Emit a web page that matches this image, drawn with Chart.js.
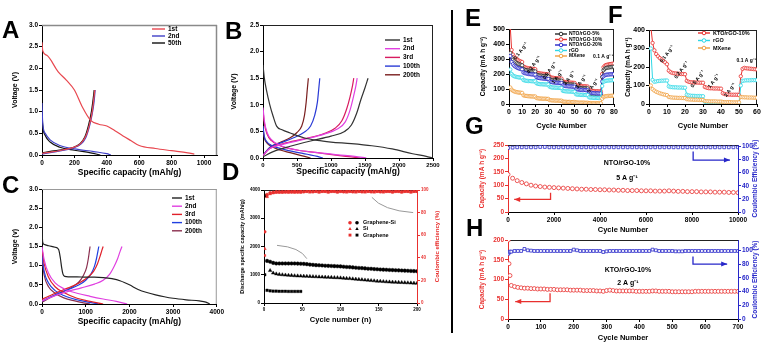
<!DOCTYPE html>
<html>
<head>
<meta charset="utf-8">
<script src="https://cdn.jsdelivr.net/npm/chart.js@4.4.1/dist/chart.umd.min.js"></script>
<style>
  body { margin: 0; background: #fff; }
  #page { position: relative; width: 762px; height: 344px; overflow: hidden; font-family: "Liberation Sans", Arial, sans-serif; }
  canvas { position: absolute; }
  .tag { position: absolute; font-weight: bold; font-size: 24px; line-height: 1; }
  #rule { position: absolute; left: 451px; top: 10px; width: 2px; height: 323px; background: #000; }
</style>
</head>
<body>
<div id="page">
  <canvas id="cA" width="225" height="186" style="left:0;top:0"></canvas>
  <canvas id="cB" width="222" height="186" style="left:225px;top:0"></canvas>
  <canvas id="cC" width="225" height="152" style="left:0;top:180px"></canvas>
  <canvas id="cD" width="222" height="152" style="left:225px;top:180px"></canvas>
  <canvas id="cE" width="150" height="135" style="left:470px;top:0"></canvas>
  <canvas id="cF" width="141" height="135" style="left:621px;top:0"></canvas>
  <canvas id="cG" width="292" height="102" style="left:470px;top:135px"></canvas>
  <canvas id="cH" width="292" height="112" style="left:470px;top:232px"></canvas>
  <div id="rule"></div>
  <div class="tag" style="left:2px;top:18px">A</div>
  <div class="tag" style="left:225px;top:19px">B</div>
  <div class="tag" style="left:2px;top:173px">C</div>
  <div class="tag" style="left:222px;top:160px">D</div>
  <div class="tag" style="left:465px;top:6px">E</div>
  <div class="tag" style="left:608px;top:3px">F</div>
  <div class="tag" style="left:465px;top:114px">G</div>
  <div class="tag" style="left:466px;top:216px">H</div>
</div>
<script>
// ---- A: voltage profiles (capacity mAh/g, voltage V)
const a1DisCap = [0, 5, 30, 100, 150, 200, 250, 300, 350, 400, 450, 500, 550, 600, 700, 800, 900, 940];
const a1DisV   = [2.6, 2.4, 2.3, 1.92, 1.73, 1.5, 1.1, 0.8, 0.71, 0.67, 0.56, 0.44, 0.33, 0.22, 0.15, 0.1, 0.05, 0.02];
const a1ChCap  = [0, 60, 120, 190, 240, 272, 294, 310, 320, 326];
const a1ChV    = [0.04, 0.07, 0.11, 0.17, 0.27, 0.45, 0.72, 1.0, 1.3, 1.5];
const a2DisCap = [0, 4, 20, 50, 110, 200, 320, 400, 425];
const a2DisV   = [1.2, 0.75, 0.5, 0.35, 0.22, 0.14, 0.08, 0.03, 0.0];
const a2ChCap  = [0, 60, 120, 190, 240, 270, 292, 310, 322, 328];
const a2ChV    = [0.02, 0.06, 0.1, 0.16, 0.25, 0.4, 0.65, 0.95, 1.25, 1.5];
const a50DisCap = [0, 4, 20, 50, 110, 200, 300, 360];
const a50DisV   = [1.05, 0.7, 0.45, 0.3, 0.18, 0.11, 0.05, 0.0];
const a50ChCap  = [0, 60, 120, 190, 235, 265, 288, 305, 316, 322];
const a50ChV    = [0.05, 0.09, 0.12, 0.17, 0.26, 0.42, 0.7, 1.0, 1.3, 1.5];

// ---- B
const b1DisCap = [0, 20, 50, 100, 150, 200, 280, 400, 600, 800, 1000, 1300, 1600, 1900, 2200, 2400, 2490];
const b1DisV   = [1.75, 1.5, 1.28, 1.0, 0.78, 0.6, 0.53, 0.47, 0.38, 0.33, 0.3, 0.27, 0.23, 0.17, 0.08, 0.03, 0.0];
const b1ChCap  = [0, 150, 400, 700, 1000, 1200, 1300, 1380, 1440, 1500, 1545];
const b1ChV    = [0.02, 0.12, 0.22, 0.32, 0.41, 0.5, 0.62, 0.85, 1.1, 1.32, 1.5];
const b2DisCap = [0, 20, 60, 120, 250, 500, 800, 1100, 1350, 1520];
const b2DisV   = [0.95, 0.7, 0.48, 0.35, 0.24, 0.15, 0.1, 0.06, 0.03, 0.0];
const b2ChCap  = [0, 100, 300, 600, 900, 1100, 1210, 1280, 1330, 1365, 1385];
const b2ChV    = [0.05, 0.18, 0.26, 0.35, 0.45, 0.55, 0.68, 0.9, 1.15, 1.35, 1.5];
const b3DisCap = [0, 20, 60, 120, 250, 500, 800, 1100, 1300, 1430];
const b3DisV   = [0.9, 0.65, 0.45, 0.33, 0.23, 0.15, 0.1, 0.05, 0.02, 0.0];
const b3ChCap  = [0, 100, 300, 600, 900, 1060, 1160, 1230, 1280, 1315, 1335];
const b3ChV    = [0.05, 0.18, 0.27, 0.36, 0.46, 0.56, 0.7, 0.92, 1.15, 1.35, 1.5];
const b100DisCap = [0, 20, 60, 120, 250, 450, 650, 800, 880];
const b100DisV   = [0.6, 0.4, 0.3, 0.24, 0.18, 0.12, 0.07, 0.03, 0.0];
const b100ChCap  = [0, 100, 250, 450, 600, 700, 760, 800, 820, 835];
const b100ChV    = [0.05, 0.2, 0.28, 0.38, 0.48, 0.6, 0.8, 1.05, 1.3, 1.5];
const b200DisCap = [0, 20, 60, 120, 250, 400, 550, 700];
const b200DisV   = [0.55, 0.38, 0.28, 0.22, 0.15, 0.1, 0.05, 0.0];
const b200ChCap  = [0, 100, 250, 400, 500, 570, 610, 635, 652, 667];
const b200ChV    = [0.05, 0.2, 0.29, 0.38, 0.48, 0.6, 0.8, 1.05, 1.3, 1.5];

// ---- C
const c1DisCap = [0, 5, 15, 40, 150, 300, 380, 420, 450, 480, 520, 600, 800, 1000, 1200, 1400, 1600, 1800, 2000, 2200, 2400, 2600, 2800, 3000, 3300, 3600, 3750, 3840];
const c1DisV   = [2.9, 2.0, 1.62, 1.56, 1.52, 1.48, 1.42, 1.2, 0.95, 0.78, 0.72, 0.71, 0.71, 0.7, 0.7, 0.69, 0.66, 0.6, 0.5, 0.38, 0.3, 0.24, 0.19, 0.15, 0.11, 0.08, 0.05, 0.0];
const c2DisCap = [0, 50, 150, 300, 500, 800, 1100, 1400, 1700, 1950];
const c2DisV   = [1.5, 1.15, 0.8, 0.55, 0.4, 0.28, 0.2, 0.13, 0.07, 0.0];
const c2ChCap  = [0, 300, 600, 900, 1200, 1400, 1550, 1650, 1730, 1790, 1830];
const c2ChV    = [0.08, 0.22, 0.33, 0.42, 0.52, 0.62, 0.78, 0.98, 1.18, 1.38, 1.5];
const c3DisCap = [0, 50, 150, 300, 500, 800, 1100, 1400];
const c3DisV   = [1.45, 1.05, 0.7, 0.45, 0.3, 0.15, 0.07, 0.0];
const c3ChCap  = [0, 300, 600, 850, 1050, 1180, 1270, 1330, 1370, 1400];
const c3ChV    = [0.12, 0.28, 0.42, 0.55, 0.7, 0.85, 1.05, 1.25, 1.4, 1.5];
const c100DisCap = [0, 50, 150, 300, 500, 800, 1050, 1300];
const c100DisV   = [1.3, 0.85, 0.55, 0.35, 0.22, 0.11, 0.05, 0.0];
const c100ChCap  = [0, 300, 600, 850, 1000, 1120, 1200, 1250, 1280, 1300];
const c100ChV    = [0.08, 0.24, 0.38, 0.5, 0.62, 0.78, 0.98, 1.2, 1.38, 1.5];
const c200DisCap = [0, 50, 150, 300, 500, 750, 950, 1100];
const c200DisV   = [1.2, 0.75, 0.45, 0.28, 0.16, 0.08, 0.03, 0.0];
const c200ChCap  = [0, 250, 500, 700, 850, 950, 1020, 1060, 1085, 1100];
const c200ChV    = [0.05, 0.2, 0.33, 0.45, 0.58, 0.75, 0.95, 1.18, 1.38, 1.5];

// ---- D: cycling (cycle, capacity mAh/g; coulombic efficiency %)
const dCyc = [1, 4, 8, 12, 16, 20, 24, 28, 32, 36, 40, 44, 48, 52, 56, 60, 64, 68, 72, 76, 80, 84, 88, 92, 96, 100, 104, 108, 112, 116, 120, 124, 128, 132, 136, 140, 144, 148, 152, 156, 160, 164, 168, 172, 176, 180, 184, 188, 192, 196, 200];
const dGsiCap = [3800, 1490, 1460, 1420, 1400, 1400, 1400, 1400, 1400, 1400, 1400, 1395, 1390, 1385, 1375, 1360, 1350, 1340, 1335, 1330, 1320, 1315, 1310, 1305, 1300, 1295, 1285, 1275, 1270, 1260, 1250, 1240, 1235, 1225, 1215, 1210, 1200, 1195, 1185, 1180, 1175, 1170, 1165, 1160, 1155, 1150, 1145, 1140, 1135, 1130, 1125];
const dSiCap  = [null, null, 1150, 1060, 1030, 1010, 1000, 990, 980, 975, 965, 960, 955, 950, 945, 940, 935, 930, 925, 920, 915, 910, 905, 900, 895, 890, 880, 870, 865, 855, 845, 835, 825, 815, 805, 795, 785, 775, 770, 760, 750, 745, 740, 735, 730, 725, 720, 715, 710, 705, 700];
const dGsiCE = [63, 96, 97.5, 98, 98.5, 98.5, 98.5, 98.5, 99, 98.5, 99, 98.5, 99, 98.5, 99, 99, 98.5, 99, 98.5, 99, 99, 98.5, 99, 99, 98.5, 99, 98.5, 99, 99, 98.5, 99, 99, 98.5, 99, 99, 98.5, 99, 99, 98.5, 99, 99, 99, 98.5, 99, 99, 98.5, 99, 99, 98.5, 99, 99];
const dSiCE  = [48, 94, 96.5, 97.5, 98, 98, 98, 98.5, 98, 98.5, 98, 98.5, 98, 98.5, 98.5, 98, 98.5, 98.5, 98, 98.5, 98.5, 98, 98.5, 98.5, 98, 98.5, 98.5, 98, 98.5, 98.5, 98, 98.5, 98.5, 98, 98.5, 98.5, 98, 98.5, 98.5, 98, 98.5, 98.5, 98, 98.5, 98.5, 98, 98.5, 98.5, 98, 98.5, 98.5];
const dGrCyc = [1, 4, 8, 12, 16, 20, 24, 28, 32, 36, 40, 44, 48];
const dGrCap = [1000, 450, 430, 420, 420, 415, 415, 415, 410, 410, 410, 410, 410];
const dGrCE  = [42, 95, 97, 97.5, 98, 98, 98, 98, 98, 98, 98, 98, 98];

// ---- E: rate capability, capacity per cycle 1..80 (mA h/g)
const eNto5 = [340, 310, 295, 285, 278, 272, 268, 264, 261, 258, 232, 228, 226, 224, 222, 221, 220, 219, 218, 217, 195, 192, 190, 189, 188, 187, 186, 185, 185, 184, 165, 162, 160, 159, 158, 157, 157, 156, 156, 155, 138, 135, 133, 132, 131, 130, 130, 129, 129, 128, 112, 110, 108, 107, 106, 106, 105, 105, 104, 104, 70, 65, 63, 62, 61, 60, 60, 59, 59, 58, 180, 225, 235, 240, 242, 244, 245, 246, 247, 248];
const eNto10 = [510, 360, 330, 315, 305, 298, 292, 287, 283, 280, 250, 245, 242, 240, 238, 236, 235, 234, 233, 232, 210, 207, 205, 203, 202, 201, 200, 199, 198, 197, 180, 177, 175, 174, 173, 172, 171, 170, 170, 169, 150, 148, 146, 145, 144, 143, 142, 142, 141, 140, 125, 123, 122, 121, 120, 119, 118, 118, 117, 116, 95, 90, 88, 87, 86, 85, 85, 84, 84, 83, 200, 245, 255, 260, 262, 264, 266, 267, 268, 270];
const eNto20 = [320, 280, 265, 255, 248, 243, 239, 236, 233, 231, 210, 206, 204, 202, 200, 199, 198, 197, 196, 195, 178, 175, 173, 172, 171, 170, 169, 168, 168, 167, 150, 147, 145, 144, 143, 142, 141, 141, 140, 140, 125, 122, 120, 119, 118, 117, 117, 116, 116, 115, 100, 98, 96, 95, 94, 94, 93, 93, 92, 92, 80, 76, 74, 73, 72, 72, 71, 71, 70, 70, 150, 185, 192, 195, 196, 197, 198, 198, 199, 199];
const eRgo = [230, 200, 190, 185, 182, 180, 178, 177, 176, 175, 160, 157, 155, 154, 153, 153, 152, 152, 151, 151, 138, 135, 133, 132, 132, 131, 131, 130, 130, 130, 115, 112, 110, 110, 109, 109, 108, 108, 108, 107, 88, 86, 85, 84, 84, 83, 83, 82, 82, 82, 65, 63, 62, 62, 61, 61, 60, 60, 60, 60, 45, 43, 42, 42, 41, 41, 41, 40, 40, 40, 120, 148, 152, 155, 156, 157, 158, 158, 159, 160];
const eMxene = [110, 95, 88, 84, 81, 79, 77, 76, 75, 74, 58, 55, 54, 53, 52, 51, 51, 50, 50, 50, 40, 38, 37, 36, 36, 35, 35, 35, 34, 34, 26, 25, 24, 24, 23, 23, 23, 22, 22, 22, 16, 15, 15, 14, 14, 14, 13, 13, 13, 13, 10, 10, 9, 9, 9, 9, 9, 8, 8, 8, 6, 6, 5, 5, 5, 5, 5, 5, 5, 5, 35, 48, 51, 52, 53, 54, 54, 55, 55, 55];
const eRates = ['0.1 A g⁻¹', '0.2 A g⁻¹', '0.5 A g⁻¹', '1 A g⁻¹', '2 A g⁻¹', '3 A g⁻¹', '5 A g⁻¹'];

// ---- F: rate capability, capacity per cycle 1..60
const fKto10 = [420, 330, 290, 270, 258, 248, 240, 232, 225, 215, 180, 172, 168, 166, 165, 164, 163, 162, 162, 161, 125, 120, 118, 117, 117, 116, 116, 115, 115, 115, 92, 88, 86, 85, 85, 84, 84, 84, 83, 83, 58, 54, 52, 51, 51, 50, 50, 50, 50, 49, 150, 190, 195, 193, 192, 191, 190, 189, 188, 187];
const fRgo = [300, 130, 120, 122, 124, 125, 126, 126, 127, 127, 95, 92, 91, 90, 90, 89, 89, 89, 88, 88, 50, 46, 45, 44, 44, 43, 43, 43, 42, 42, 12, 10, 9, 9, 9, 8, 8, 8, 8, 8, 5, 5, 4, 4, 4, 4, 4, 4, 4, 4, 100, 125, 127, 128, 128, 128, 129, 129, 129, 129];
const fMxene = [100, 80, 72, 66, 62, 58, 55, 52, 50, 48, 38, 36, 35, 34, 34, 33, 33, 33, 32, 32, 26, 25, 24, 24, 23, 23, 23, 22, 22, 22, 16, 15, 15, 14, 14, 14, 14, 13, 13, 13, 11, 10, 10, 10, 10, 9, 9, 9, 9, 9, 38, 37, 36, 36, 35, 35, 35, 34, 34, 34];
const fRates = ['0.1 A g⁻¹', '0.2 A g⁻¹', '0.5 A g⁻¹', '1 A g⁻¹', '2 A g⁻¹'];

// ---- G: long cycling NTO/rGO-10% at 5 A/g
const gCyc = [0, 200, 400, 600, 800, 1000, 1200, 1400, 1600, 1800, 2000, 2200, 2400, 2600, 2800, 3000, 3200, 3400, 3600, 3800, 4000, 4200, 4400, 4600, 4800, 5000, 5200, 5400, 5600, 5800, 6000, 6200, 6400, 6600, 6800, 7000, 7200, 7400, 7600, 7800, 8000, 8200, 8400, 8600, 8800, 9000, 9200, 9400, 9600, 9800, 10000];
const gCap = [140, 126, 117, 110, 105, 100, 97, 95, 93, 92, 91, 90, 89, 88, 87, 86, 85, 85, 84, 84, 83, 83, 82, 82, 81, 81, 80, 80, 80, 79, 79, 79, 78, 78, 78, 79, 78, 77, 77, 76, 76, 76, 75, 75, 75, 74, 74, 74, 73, 73, 72];
const gCE  = [97.5, 98, 98.5, 98.5, 98.5, 98.5, 98.5, 99, 99, 98.5, 98.5, 98.5, 98.5, 98.5, 98.5, 98.5, 98.5, 98.5, 98.5, 98.5, 98.5, 98.5, 98.5, 98.5, 98.5, 98.5, 98.5, 98.5, 98.5, 98.5, 98.5, 98.5, 98.5, 98.5, 98.5, 98.5, 98.5, 98.5, 98.5, 98.5, 98.5, 98.5, 98.5, 98.5, 98.5, 98.5, 98.5, 98.5, 98.5, 98.5, 98.5];

// ---- H: long cycling KTO/rGO-10% at 2 A/g
const hCyc = [1, 3, 6, 10, 20, 30, 40, 50, 60, 70, 80, 90, 100, 110, 120, 130, 140, 150, 160, 170, 180, 190, 200, 210, 220, 230, 240, 250, 260, 270, 280, 290, 300, 310, 320, 330, 340, 350, 360, 370, 380, 390, 400, 410, 420, 430, 440, 450, 460, 470, 480, 490, 500, 510, 520, 530, 540, 550, 560, 570, 580, 590, 600, 610, 620, 630, 640, 650, 660, 670, 680, 690, 700];
const hCap = [200, 140, 110, 85, 82, 80, 79, 78, 78, 77, 77, 76, 76, 76, 75, 75, 75, 74, 74, 74, 74, 73, 73, 73, 73, 72, 72, 72, 72, 71, 71, 70, 72, 73, 72, 71, 71, 71, 71, 71, 71, 70, 70, 70, 70, 70, 71, 71, 70, 70, 70, 70, 69, 69, 69, 69, 69, 69, 69, 70, 70, 70, 70, 70, 70, 70, 70, 70, 70, 70, 70, 70, 70];
const hCE  = [95, 97, 98, 98, 99, 99, 99, 102, 100, 99.5, 99, 99, 99, 99, 99, 99, 99, 99, 99, 99, 99, 99, 101, 100, 99, 99, 99, 99, 99, 99, 99, 97.5, 98.5, 99, 99, 99, 99, 99, 99, 99, 99, 99, 99, 99, 99, 99, 101, 100, 99, 99, 99, 99, 99, 98.5, 98.5, 98.5, 99, 99, 99, 99, 99, 99, 99, 99, 99, 99, 99, 99, 99, 99, 99, 99, 99];

const F = '"Liberation Sans", Arial, sans-serif';
Chart.defaults.font.family = F;
const RED = '#e8302e', BLUE = '#2727c9', CYAN = '#2ed8e6', ORANGE = '#f0a040', DARK = '#2b2b2b';

const pts = (xs, ys) => xs.map((x, i) => ({ x, y: ys[i] }));
const byCycle = ys => ys.map((y, i) => ({ x: i + 1, y }));

function curve(xs, ys, color) {
  return { data: pts(xs, ys), showLine: true, borderColor: color, borderWidth: 1.2, pointRadius: 0, cubicInterpolationMode: 'monotone' };
}
function rate(ys, color) {
  return { data: byCycle(ys), showLine: true, borderColor: color, borderWidth: 1, pointRadius: 1.7, pointBorderWidth: 0.8, pointBackgroundColor: '#fff', pointBorderColor: color };
}
function dots(xs, ys, color, style, r, axis, open) {
  return { data: pts(xs, ys), showLine: false, yAxisID: axis || 'y', pointStyle: style, pointRadius: r,
    pointBorderWidth: open ? 0.8 : 0.4, pointBorderColor: color, pointBackgroundColor: open ? '#fff' : color };
}

function axis(o) {
  const c = o.color || '#000';
  return {
    type: 'linear', position: o.pos || 'left', min: o.min, max: o.max,
    afterBuildTicks: s => { s.ticks = s.ticks.filter(t => t.value <= o.top + 1e-9 && Math.abs(t.value / o.step - Math.round(t.value / o.step)) < 1e-6); },
    afterFit: s => { if (o.w !== undefined) s.width = o.w; if (o.h !== undefined) s.height = o.h; },
    ticks: { stepSize: o.step, includeBounds: false, autoSkip: false, maxRotation: 0, color: c, padding: 1,
      font: { size: o.fs, weight: 'bold', family: F },
      callback: v => o.dec ? v.toFixed(o.dec) : String(v) },
    grid: { drawOnChartArea: false, color: c, tickColor: c, tickLength: 3, lineWidth: 1 },
    border: { color: c, width: 1 },
    title: o.title ? { display: true, text: o.title, color: c, font: { size: o.tfs, weight: 'bold', family: F }, padding: o.tp } : { display: false }
  };
}

function shape(ctx, kind, x, y, r) {
  ctx.beginPath();
  if (kind === 'triangle') { ctx.moveTo(x, y - r); ctx.lineTo(x + r * 0.95, y + r * 0.6); ctx.lineTo(x - r * 0.95, y + r * 0.6); ctx.closePath(); }
  else if (kind === 'rect') ctx.rect(x - r * 0.8, y - r * 0.8, r * 1.6, r * 1.6);
  else ctx.arc(x, y, r, 0, Math.PI * 2);
}

// extra drawing per canvas: frame, legend, labels, arrows
const DECO = {};
Chart.register({
  id: 'deco',
  beforeDatasetsDraw(chart) {
    const o = DECO[chart.canvas.id];
    if (!o || !o.frame) return;
    const { ctx, chartArea: c } = chart;
    ctx.save();
    ctx.strokeStyle = o.frame; ctx.lineWidth = o.frameW || 1;
    ctx.beginPath();
    ctx.moveTo(c.left, c.top + 0.5); ctx.lineTo(c.right, c.top + 0.5);
    if (o.rightLine) { ctx.moveTo(c.right - 0.5, c.top); ctx.lineTo(c.right - 0.5, c.bottom); }
    ctx.stroke();
    ctx.restore();
  },
  afterDatasetsDraw(chart) {
    const o = DECO[chart.canvas.id];
    if (!o) return;
    const { ctx, scales, chartArea: ca } = chart;
    const P = (ax, p) => [scales.x.getPixelForValue(p[0]), scales[ax].getPixelForValue(p[1])];
    ctx.save();
    (o.curves || []).forEach(k => {
      const [a, b, e] = k.p.map(p => P(k.axis, p));
      ctx.strokeStyle = k.color; ctx.lineWidth = 1;
      ctx.beginPath(); ctx.moveTo(a[0], a[1]); ctx.quadraticCurveTo(b[0], b[1], e[0], e[1]); ctx.stroke();
    });
    (o.arrows || []).forEach(k => {
      const q = k.p.map(p => P(k.axis, p));
      ctx.strokeStyle = k.color; ctx.fillStyle = k.color; ctx.lineWidth = 1.3;
      ctx.beginPath();
      q.forEach((p, i) => i ? ctx.lineTo(p[0], p[1]) : ctx.moveTo(p[0], p[1]));
      ctx.stroke();
      const [x1, y1] = q[q.length - 2], [x2, y2] = q[q.length - 1];
      const an = Math.atan2(y2 - y1, x2 - x1), cs = Math.cos(an), sn = Math.sin(an);
      ctx.beginPath(); ctx.moveTo(x2, y2);
      ctx.lineTo(x2 - 6 * cs + 2.5 * sn, y2 - 6 * sn - 2.5 * cs);
      ctx.lineTo(x2 - 6 * cs - 2.5 * sn, y2 - 6 * sn + 2.5 * cs);
      ctx.closePath(); ctx.fill();
    });
    (o.texts || []).forEach(k => {
      const [x, y] = P(k.axis || 'y', [k.x, k.y]);
      ctx.save(); ctx.translate(x, y); ctx.rotate(k.rot || 0);
      ctx.font = `bold ${k.fs}px ${F}`; ctx.fillStyle = k.color || '#000';
      ctx.textAlign = k.align || 'center'; ctx.textBaseline = 'middle';
      ctx.fillText(k.t, 0, 0);
      ctx.restore();
    });
    if (o.legend) {
      const L = o.legend;
      ctx.font = `bold ${L.fs}px ${F}`; ctx.textBaseline = 'middle'; ctx.textAlign = 'left';
      L.items.forEach((it, i) => {
        const y = L.y + i * L.dy;
        if (it.shape) {
          ctx.fillStyle = RED; shape(ctx, it.shape, L.x, y, 1.8); ctx.fill();
          ctx.fillStyle = '#000'; shape(ctx, it.shape, L.x + 7, y, 1.8); ctx.fill();
        } else {
          ctx.strokeStyle = it.color; ctx.lineWidth = 1.4;
          ctx.beginPath(); ctx.moveTo(L.x, y); ctx.lineTo(L.x + L.len, y); ctx.stroke();
          if (L.ring) { ctx.fillStyle = '#fff'; ctx.lineWidth = 1; shape(ctx, 'circle', L.x + L.len / 2, y, 1.8); ctx.fill(); ctx.stroke(); }
        }
        ctx.fillStyle = '#000';
        ctx.fillText(it.text, L.tx, y);
      });
    }
    if (o.rtitle) {
      const r = o.rtitle;
      ctx.save(); ctx.translate(r.x, (ca.top + ca.bottom) / 2); ctx.rotate(-Math.PI / 2);
      ctx.font = `bold ${r.fs}px ${F}`; ctx.fillStyle = r.color;
      ctx.textAlign = 'center'; ctx.textBaseline = 'middle';
      ctx.fillText(r.t, 0, 0);
      ctx.restore();
    }
    ctx.restore();
  }
});

function make(id, datasets, scales, pad, deco) {
  DECO[id] = deco;
  return new Chart(document.getElementById(id), {
    type: 'scatter',
    data: { datasets },
    options: {
      responsive: false, animation: false, events: [],
      layout: { padding: Object.assign({ left: 0, right: 0, top: 0, bottom: 0 }, pad) },
      scales,
      plugins: { legend: { display: false }, tooltip: { enabled: false } }
    }
  });
}

// A
const aRed = '#e8474f', aBlue = '#3f3fc8';
make('cA', [
  curve(a1DisCap, a1DisV, aRed), curve(a1ChCap, a1ChV, aRed),
  curve(a2DisCap, a2DisV, aBlue), curve(a2ChCap, a2ChV, aBlue),
  curve(a50DisCap, a50DisV, '#111'), curve(a50ChCap, a50ChV, '#111')
], {
  x: axis({ pos: 'bottom', min: 0, max: 1080, top: 1000, step: 200, fs: 6.5, h: 31, title: 'Specific capacity (mAh/g)', tfs: 8.5, tp: { top: 0, bottom: 7.9 } }),
  y: axis({ min: 0, max: 3, top: 3, step: 0.5, dec: 1, fs: 6.5, w: 42, title: 'Voltage (V)', tfs: 7, tp: { top: 10.8, bottom: 0 } })
}, { top: 25, right: 8 }, {
  frame: '#8a8a8a', frameW: 1.5, rightLine: true,
  legend: { x: 152, tx: 168, y: 29, dy: 7, len: 13, fs: 6.5, items: [{ text: '1st', color: aRed }, { text: '2nd', color: aBlue }, { text: '50th', color: '#111' }] }
});

// B
const bCols = ['#333333', '#e040e0', '#d81b60', '#2a3bd6', '#7a1f1f'];
make('cB', [
  curve(b1DisCap, b1DisV, bCols[0]), curve(b1ChCap, b1ChV, bCols[0]),
  curve(b2DisCap, b2DisV, bCols[1]), curve(b2ChCap, b2ChV, bCols[1]),
  curve(b3DisCap, b3DisV, bCols[2]), curve(b3ChCap, b3ChV, bCols[2]),
  curve(b100DisCap, b100DisV, bCols[3]), curve(b100ChCap, b100ChV, bCols[3]),
  curve(b200DisCap, b200DisV, bCols[4]), curve(b200ChCap, b200ChV, bCols[4])
], {
  x: axis({ pos: 'bottom', min: 0, max: 2500, top: 2500, step: 500, fs: 6, h: 28, title: 'Specific capacity (mAh/g)', tfs: 8.5, tp: { top: 0, bottom: 8.9 } }),
  y: axis({ min: 0, max: 2.5, top: 2.5, step: 0.5, dec: 1, fs: 6.5, w: 38, title: 'Voltage (V)', tfs: 7, tp: { top: 4.8, bottom: 0 } })
}, { top: 25, right: 14 }, {
  frame: '#222', rightLine: true,
  legend: { x: 160, tx: 178, y: 40, dy: 8.7, len: 15, fs: 6.5, items: ['1st', '2nd', '3rd', '100th', '200th'].map((t, i) => ({ text: t, color: bCols[i] })) }
});

// C
const cCols = ['#222222', '#e040e0', '#e0202a', '#2040e0', '#8b2f4f'];
make('cC', [
  curve(c1DisCap, c1DisV, cCols[0]),
  curve(c2DisCap, c2DisV, cCols[1]), curve(c2ChCap, c2ChV, cCols[1]),
  curve(c3DisCap, c3DisV, cCols[2]), curve(c3ChCap, c3ChV, cCols[2]),
  curve(c100DisCap, c100DisV, cCols[3]), curve(c100ChCap, c100ChV, cCols[3]),
  curve(c200DisCap, c200DisV, cCols[4]), curve(c200ChCap, c200ChV, cCols[4])
], {
  x: axis({ pos: 'bottom', min: 0, max: 4000, top: 4000, step: 1000, fs: 6.5, h: 28, title: 'Specific capacity (mAh/g)', tfs: 8.5, tp: { top: 0, bottom: 4.9 } }),
  y: axis({ min: 0, max: 3, top: 3, step: 0.5, dec: 1, fs: 6.5, w: 42, title: 'Voltage (v)', tfs: 7, tp: { top: 10.8, bottom: 0 } })
}, { top: 9, right: 7 }, {
  frame: '#999', rightLine: true,
  legend: { x: 172, tx: 185, y: 18, dy: 8.2, len: 10, fs: 6.5, items: ['1st', '2nd', '3rd', '100th', '200th'].map((t, i) => ({ text: t, color: cCols[i] })) }
});

// D
make('cD', [
  dots(dCyc, dGsiCE, RED, 'circle', 1.5, 'y2'),
  dots(dCyc, dSiCE, RED, 'triangle', 1.8, 'y2'),
  dots(dGrCyc, dGrCE, RED, 'rect', 1.5, 'y2'),
  dots(dCyc, dGsiCap, '#000', 'circle', 1.8),
  dots(dCyc, dSiCap, '#000', 'triangle', 2.1),
  dots(dGrCyc, dGrCap, '#000', 'rect', 1.8)
], {
  x: axis({ pos: 'bottom', min: 0, max: 200, top: 200, step: 50, fs: 4.5, h: 29, title: 'Cycle number (n)', tfs: 7.5, tp: { top: 0, bottom: 7.5 } }),
  y: axis({ min: 0, max: 4000, top: 4000, step: 1000, fs: 4.5, w: 39, title: 'Discharge specific capacity (mAh/g)', tfs: 5.5, tp: { top: 13.7, bottom: 0 } }),
  y2: axis({ pos: 'right', min: 0, max: 100, top: 100, step: 20, fs: 4.5, w: 30, color: RED })
}, { top: 10 }, {
  frame: '#222',
  legend: { x: 125, tx: 138, y: 42.7, dy: 6.2, fs: 5.5, items: [{ text: 'Graphene-Si', shape: 'circle' }, { text: 'Si', shape: 'triangle' }, { text: 'Graphene', shape: 'rect' }] },
  curves: [
    { axis: 'y2', p: [[141, 93.5], [155, 82], [195, 80]], color: '#999' },
    { axis: 'y', p: [[17, 2040], [47, 1980], [56, 1570]], color: '#999' }
  ],
  rtitle: { t: 'Coulombic efficiency (%)', x: 212, fs: 6, color: RED }
});

// E
const eCols = [DARK, RED, BLUE, CYAN, ORANGE];
const eSpots = [[9, 353], [19, 262], [31, 222], [37, 182], [46, 173], [55, 148], [64, 122]];
make('cE', [rate(eMxene, ORANGE), rate(eRgo, CYAN), rate(eNto20, BLUE), rate(eNto5, DARK), rate(eNto10, RED)], {
  x: axis({ pos: 'bottom', min: 0, max: 80, top: 80, step: 10, fs: 7, h: 31, title: 'Cycle Number', tfs: 7.5, tp: { top: 0, bottom: 4.5 } }),
  y: axis({ min: 0, max: 500, top: 500, step: 100, fs: 7, w: 39, title: 'Capacity (mA h g⁻¹)', tfs: 6.5, tp: { top: 9.1, bottom: 0 } })
}, { top: 29, right: 6 }, {
  frame: '#222', rightLine: true,
  legend: { x: 85, tx: 99, y: 34, dy: 5.5, len: 12, fs: 5, ring: true, items: ['NTO/rGO-5%', 'NTO/rGO-10%', 'NTO/rGO-20%', 'rGO', 'MXene'].map((t, i) => ({ text: t, color: eCols[i] })) },
  texts: eRates.map((t, i) => ({ t, x: eSpots[i][0], y: eSpots[i][1], rot: -0.95, fs: 5 }))
    .concat([{ t: '0.1 A g⁻¹', x: 64, y: 315, fs: 5, align: 'left' }])
});

// F
const fCols = [RED, CYAN, ORANGE];
const fSpots = [[10, 270], [18, 184], [27, 135], [36, 124], [45, 76]];
make('cF', [rate(fMxene, ORANGE), rate(fRgo, CYAN), rate(fKto10, RED)], {
  x: axis({ pos: 'bottom', min: 0, max: 60, top: 60, step: 10, fs: 7, h: 31, title: 'Cycle Number', tfs: 7.5, tp: { top: 0, bottom: 4.5 } }),
  y: axis({ min: 0, max: 400, top: 400, step: 100, fs: 7, w: 28, title: 'Capacity (mA h g⁻¹)', tfs: 6.5, tp: { top: 3.1, bottom: 0 } })
}, { top: 30, right: 5 }, {
  frame: '#222', rightLine: true,
  legend: { x: 77, tx: 92, y: 33, dy: 7.5, len: 12, fs: 5.5, ring: true, items: ['KTO/rGO-10%', 'rGO', 'MXene'].map((t, i) => ({ text: t, color: fCols[i] })) },
  texts: fRates.map((t, i) => ({ t, x: fSpots[i][0], y: fSpots[i][1], rot: -0.95, fs: 5 }))
    .concat([{ t: '0.1 A g⁻¹', x: 48.6, y: 232, fs: 5, align: 'left' }])
});

// G
make('cG', [dots(gCyc, gCE, BLUE, 'rect', 2, 'y2', true), dots(gCyc, gCap, RED, 'circle', 2, 'y', true)], {
  x: axis({ pos: 'bottom', min: 0, max: 10000, top: 10000, step: 2000, fs: 6.5, h: 25, title: 'Cycle Number', tfs: 7.5, tp: { top: 0, bottom: 2.5 } }),
  y: axis({ min: 0, max: 250, top: 250, step: 50, fs: 6.5, w: 38, color: RED, title: 'Capacity (mA h g⁻¹)', tfs: 6.5, tp: { top: 8.1, bottom: 0 } }),
  y2: axis({ pos: 'right', min: 0, max: 102, top: 100, step: 20, fs: 6.5, w: 24, color: BLUE })
}, { top: 10 }, {
  frame: '#222',
  texts: [{ t: 'NTO/rGO-10%', x: 5174, y: 183, fs: 7 }, { t: '5 A g⁻¹', x: 5174, y: 127, fs: 7 }],
  arrows: [
    { axis: 'y', p: [[1850, 72], [1850, 47], [270, 47]], color: RED },
    { axis: 'y2', p: [[8050, 92], [8050, 79], [9650, 79]], color: BLUE }
  ],
  rtitle: { t: 'Coulombic Efficiency (%)', x: 285, fs: 6.5, color: BLUE }
});

// H
make('cH', [dots(hCyc, hCE, BLUE, 'rect', 2, 'y2', true), dots(hCyc, hCap, RED, 'circle', 2, 'y', true)], {
  x: axis({ pos: 'bottom', min: 0, max: 700, top: 700, step: 100, fs: 6.5, h: 25, title: 'Cycle Number', tfs: 7.5, tp: { top: 0, bottom: 1.5 } }),
  y: axis({ min: 0, max: 200, top: 200, step: 50, fs: 6.5, w: 38, color: RED, title: 'Capacity (mA h g⁻¹)', tfs: 6.5, tp: { top: 8.1, bottom: 0 } }),
  y2: axis({ pos: 'right', min: 0, max: 115, top: 100, step: 20, fs: 6.5, w: 24, color: BLUE })
}, { top: 8 }, {
  frame: '#222',
  texts: [{ t: 'KTO/rGO-10%', x: 365, y: 124, fs: 7 }, { t: '2 A g⁻¹', x: 365, y: 92, fs: 7 }],
  arrows: [
    { axis: 'y', p: [[128, 65], [128, 44], [22, 44]], color: RED },
    { axis: 'y2', p: [[563, 91], [563, 80], [667, 80]], color: BLUE }
  ],
  rtitle: { t: 'Coulombic Efficiency (%)', x: 285, fs: 6.5, color: BLUE }
});
</script>
</body>
</html>
